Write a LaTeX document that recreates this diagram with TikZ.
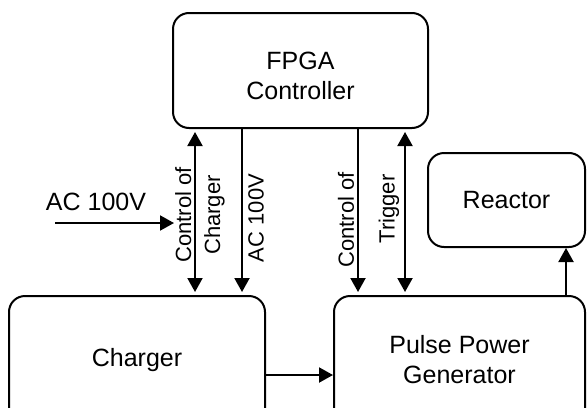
\documentclass[tikz,border=0pt]{standalone}
\usepackage{fontspec}
\setmainfont{Liberation Sans}
\usetikzlibrary{arrows.meta}

\tikzset{
  block/.style={draw,line width=1pt,rounded corners=8pt,inner sep=0pt,align=center,
    font=\fontsize{12.5}{15}\selectfont},
  sig/.style={line width=1pt,shorten >=1.5pt,-{Triangle[length=7pt,width=7.5pt]}},
  sigboth/.style={line width=1pt,shorten >=1.5pt,shorten <=1.5pt,
    {Triangle[length=7pt,width=7.5pt]}-{Triangle[length=7pt,width=7.5pt]}},
  lbl/.style={rotate=90,inner sep=0pt,align=center,font=\fontsize{11}{14.5}\selectfont}
}

\begin{document}
\begin{tikzpicture}[x=0.5pt,y=-0.5pt]
\useasboundingbox (0,0) rectangle (587,407);

\node[block,minimum width=127.5pt,minimum height=57.5pt] (fpga) at (300.5,70.5) {\rule{0pt}{14pt}FPGA\\Controller};
\node[block,minimum width=78.5pt,minimum height=47pt] (reactor) at (506.5,200) {Reactor};
\node[block,minimum width=128pt,minimum height=64pt] (charger) at (137,360) {Charger};
\node[block,minimum width=125.5pt,minimum height=64pt] (ppg) at (459.5,360) {Pulse Power\\Generator};

% positions of the signal lines
\coordinate (xcc) at (195,0);
\coordinate (xac) at (242,0);
\coordinate (xcp) at (358,0);
\coordinate (xtr) at (405,0);
\coordinate (xre) at (566,0);
\coordinate (ycp) at (0,375);

% Arrows between the blocks
\draw[sigboth] (fpga.south -| xcc) -- (charger.north -| xcc);
\draw[sig] (fpga.south -| xac) -- (charger.north -| xac);
\draw[sig] (fpga.south -| xcp) -- (ppg.north -| xcp);
\draw[sigboth] (fpga.south -| xtr) -- (ppg.north -| xtr);
\draw[sig,shorten >=0pt] (charger.east |- ycp) -- (ppg.west |- ycp);
\draw[sig,shorten >=0pt] (ppg.north -| xre) -- (reactor.south -| xre);

\node[lbl] (lcc) at (200,215) {Control of\\Charger};
\node[lbl] (lac) at (256,218) {AC 100V};
\node[lbl] (lcp) at (346,220) {Control of};
\node[lbl] (ltr) at (389,209) {Trigger};

% mains input
\coordinate (acin) at (55,223);
\coordinate (acend) at (174,223);
\draw[sig,shorten >=0pt] (acin) -- (acend);
\node[font=\fontsize{12.5}{15}\selectfont,inner sep=0pt] (acl) at (96,202) {AC 100V};
\end{tikzpicture}
\end{document}
